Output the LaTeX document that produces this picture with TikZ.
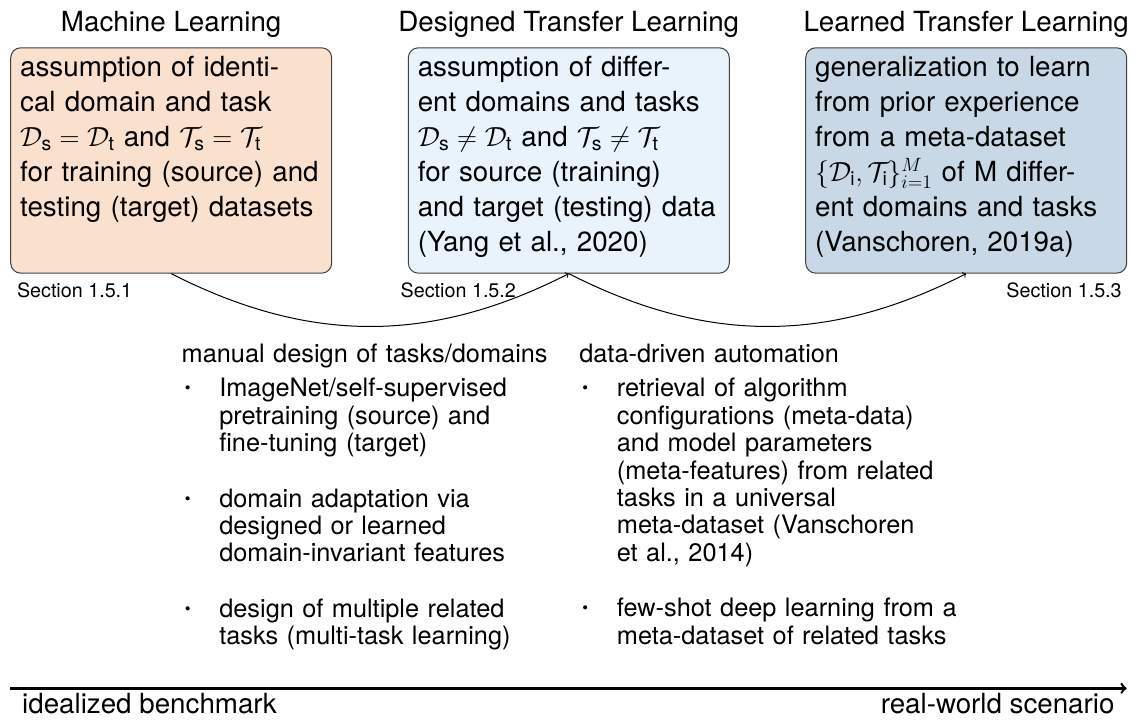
\documentclass[tikz,border=0pt]{standalone}
\usepackage{amsmath}
\usepackage{graphicx}
\usepackage[no-math]{fontspec}
\setmainfont{TeX Gyre Heros}
\usepackage{enumitem}
\usetikzlibrary{positioning}

\definecolor{mlfill}{RGB}{249,225,206}
\definecolor{dtlfill}{RGB}{232,243,251}
\definecolor{ltlfill}{RGB}{201,216,230}

\setlist[itemize]{label={\raisebox{0.12em}{\scalebox{0.65}{\textbullet}}}, leftmargin=28.2pt, labelwidth=6.7pt, labelsep=21.5pt, topsep=4.9pt, itemsep=21pt, parsep=0pt, partopsep=0pt}

\tikzset{every picture/.style={line width=0.75pt}}
\tikzset{
  stagebox/.style={draw=black!75, rounded corners=7.5pt, align=left, text width=226.5pt, inner xsep=7.1pt, inner ysep=4.5pt, text height=17pt, text depth=143pt, anchor=north, font=\fontsize{20.8}{26.25}\selectfont},
  stagetitle/.style={anchor=base, inner sep=0pt, font=\fontsize{20.8}{26.25}\selectfont},
  seclabel/.style={inner sep=0pt, font=\fontsize{14.8}{18}\selectfont},
  itemlist/.style={anchor=base west, inner sep=0pt, align=left, text width=285pt, font=\fontsize{19}{20.6}\selectfont},
  axislabel/.style={inner sep=0pt, font=\fontsize{20.8}{26.25}\selectfont},
}

\begin{document}
\begin{tikzpicture}[x=0.75pt,y=0.75pt,yscale=-1,xscale=1]
    \useasboundingbox (0,0) rectangle (1138,722); %set diagram to 1138 x 722
    
    %Shape: Rounded Rect [id:ml] 
    \node[stagebox, fill=mlfill] (ml) at (171.2,47.3) {assumption of identi-\\cal domain and task\\$\mathcal{D}_\text{s} = \mathcal{D}_\text{t}$ and $\mathcal{T}_\text{s} = \mathcal{T}_\text{t}$\\for training (source) and\\testing (target) datasets};
    %Shape: Rounded Rect [id:dtl] 
    \node[stagebox, fill=dtlfill] (dtl) at (568.8,47.3) {assumption of differ-\\ent domains and tasks\\$\mathcal{D}_\text{s} \neq \mathcal{D}_\text{t}$ and $\mathcal{T}_\text{s} \neq \mathcal{T}_\text{t}$\\for source (training)\\and target (testing) data\\(Yang et al., 2020)};
    %Shape: Rounded Rect [id:ltl] 
    \node[stagebox, fill=ltlfill] (ltl) at (966.2,47.3) {generalization to learn\\from prior experience\\from a meta-dataset\\$\{\mathcal{D}_\text{i}, \mathcal{T}_\text{i}\}_{i=1}^{M}$ of M differ-\\ent domains and tasks\\(Vanschoren, 2019a)};
    
    % Text Node
    \node[stagetitle] (tml) at ([yshift=-11.7pt]ml.north) {Machine Learning};
    % Text Node
    \node[stagetitle] (tdtl) at ([yshift=-11.7pt]dtl.north) {Designed Transfer Learning};
    % Text Node
    \node[stagetitle] (tltl) at ([yshift=-11.7pt]ltl.north) {Learned Transfer Learning};
    
    % Text Node
    \node[seclabel, anchor=base west] (s1) at ([xshift=4.7pt,yshift=18pt]ml.south west) {Section 1.5.1};
    % Text Node
    \node[seclabel, anchor=base west] (s2) at ([xshift=-5.7pt,yshift=18pt]dtl.south west) {Section 1.5.2};
    % Text Node
    \node[seclabel, anchor=base east] (s3) at ([xshift=-3.75pt,yshift=18pt]ltl.south east) {Section 1.5.3};
    
    %Curve Lines
    \draw[->] (ml.south) to[bend left=27] (dtl.south);
    \draw[->] (dtl.south) to[bend left=27] (ltl.south);
    
    % Text Node
    \node[itemlist] (manual) at ([xshift=7.5pt,yshift=66.75pt]ml.south) {manual design of tasks/domains
      \begin{itemize}
        \item ImageNet/self-supervised\\pretraining (source) and\\fine-tuning (target)
        \item domain adaptation via\\designed or learned\\domain-invariant features
        \item design of multiple related\\tasks (multi-task learning)
      \end{itemize}};
    % Text Node
    \node[itemlist] (datadriven) at ([xshift=7.5pt,yshift=66.75pt]dtl.south) {data-driven automation
      \begin{itemize}
        \item retrieval of algorithm\\configurations (meta-data)\\and model parameters\\(meta-features) from related\\tasks in a universal\\meta-dataset (Vanschoren\\et al., 2014)
        \item few-shot deep learning from a\\meta-dataset of related tasks
      \end{itemize}};
    
    %Straight Lines
    \coordinate (axl) at (10,688.3);
    \coordinate (axr) at (1126.7,688.3);
    \draw[->, line width=1.9pt] (axl) -- (axr);
    
    % Text Node
    \node[axislabel, anchor=base west] (ideal) at ([xshift=8.8pt,yshift=18.75pt]axl) {idealized benchmark};
    % Text Node
    \node[axislabel, anchor=base east] (real) at ([xshift=-8.8pt,yshift=18.75pt]axr) {real-world scenario};
    
\end{tikzpicture}
\end{document}
